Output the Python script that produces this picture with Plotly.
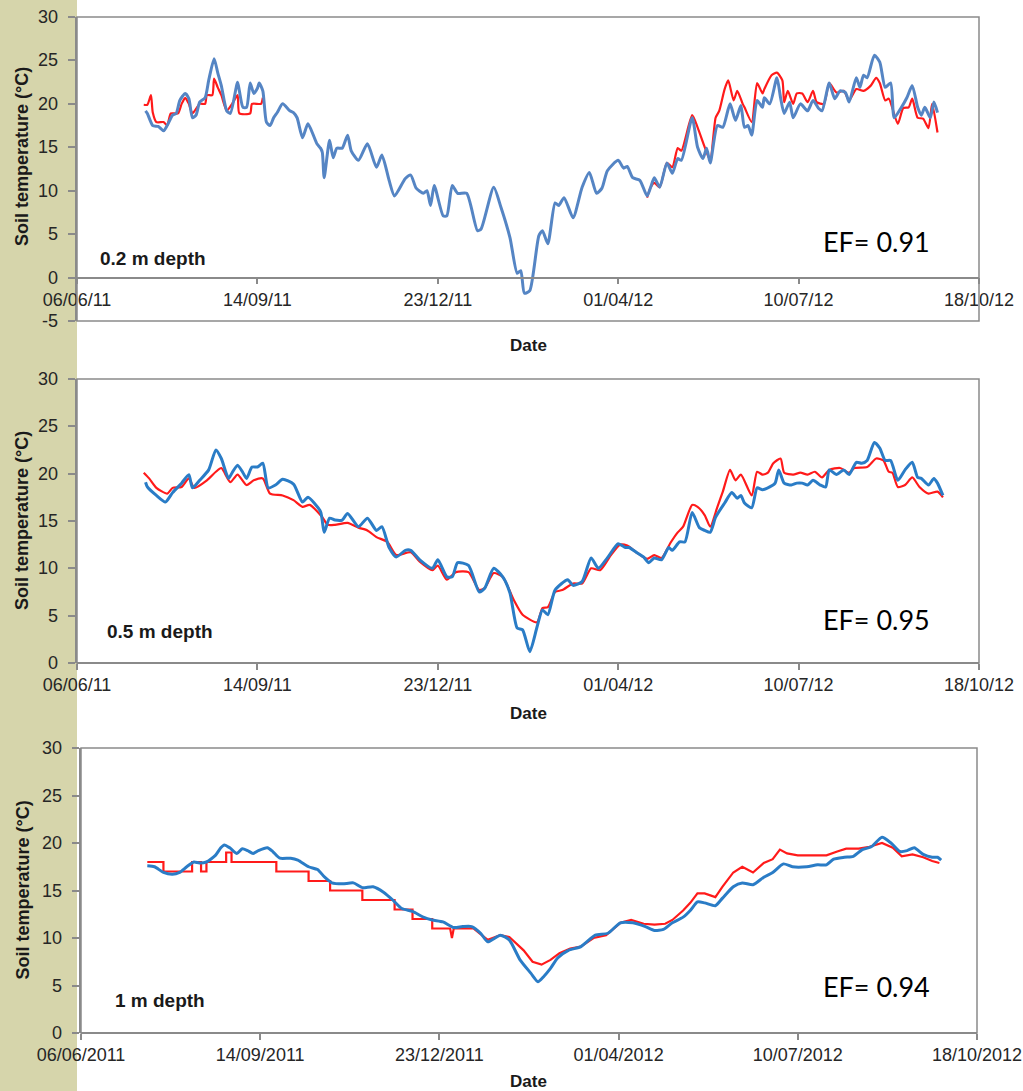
import pandas as pd
import plotly.graph_objects as go

# ---------------------------------------------------------------------------
# Soil temperature, measured (red) vs simulated (blue), at three depths.
# x values are days since 06/06/2011.
# ---------------------------------------------------------------------------
START = pd.Timestamp("2011-06-06")

tick_days = [0, 100, 200, 300, 400, 500]
tick_text_short = ["06/06/11", "14/09/11", "23/12/11", "01/04/12", "10/07/12", "18/10/12"]
tick_text_long = ["06/06/2011", "14/09/2011", "23/12/2011", "01/04/2012", "10/07/2012", "18/10/2012"]

temp_ticks_top = [-5, 0, 5, 10, 15, 20, 25, 30]
temp_ticks = [0, 5, 10, 15, 20, 25, 30]

depth_labels = ["0.2 m depth", "0.5 m depth", "1 m depth"]
ef_values = [0.91, 0.95, 0.94]

# ---- 0.2 m -----------------------------------------------------------------
p1_sim_days = [38, 39, 42, 45, 48, 50, 53, 55, 57, 60, 62, 64, 66, 68, 71, 73, 76, 78, 80, 83,
               85, 89, 90, 92, 94, 96, 98, 100, 101, 103, 105, 107, 109, 111, 114, 118, 120, 122, 125, 128,
               131, 133, 135, 136, 137, 140, 142, 144, 147, 150, 152, 156, 161, 166, 169, 173, 176, 182, 185, 188,
               192, 194, 196, 198, 203, 205, 208, 211, 216, 222, 224, 231, 235, 240, 244, 246, 248, 251, 256, 258,
               261, 265, 267, 270, 275, 280, 284, 288, 291, 294, 300, 303, 305, 308, 312, 316, 318, 320, 323, 327,
               330, 333, 335, 341, 344, 347, 349, 351, 355, 358, 362, 365, 368, 370, 372, 374, 377, 380, 381, 384,
               388, 390, 392, 395, 397, 401, 405, 408, 411, 413, 417, 420, 423, 426, 428, 432, 434, 436, 438, 442,
               445, 448, 451, 453, 457, 460, 463, 466, 468, 470, 473, 475, 477]
p1_sim_vals = [19.2, 18.9, 17.5, 17.4, 16.9, 17.5, 18.7, 18.9, 20.4, 21.2, 20.6, 18.4, 18.7, 20.2, 20.7, 22.7, 25.2, 23.6, 22.1, 19.2,
               18.9, 22.5, 21.5, 19.6, 19.6, 22.4, 21.2, 21.8, 22.4, 21.5, 17.9, 17.5, 18.4, 19.0, 20.0, 19.2, 19.0, 18.4, 16.1, 17.7,
               16.4, 15.4, 14.9, 14.4, 11.5, 15.8, 13.8, 14.9, 14.9, 16.4, 14.6, 13.5, 15.4, 12.7, 14.1, 11.2, 9.4, 11.4, 11.8, 10.3,
               9.7, 10.0, 8.3, 10.6, 7.1, 7.1, 10.6, 9.7, 9.7, 5.4, 5.6, 10.4, 8.1, 4.6, 0.5, 0.8, -1.8, -1.5, 4.8, 5.4,
               3.9, 8.6, 8.3, 9.2, 6.9, 10.4, 12.1, 9.7, 10.3, 12.3, 13.5, 12.6, 12.8, 11.5, 11.2, 9.4, 10.4, 11.5, 10.4, 13.2,
               12.0, 13.7, 13.5, 18.4, 15.0, 13.7, 14.9, 13.2, 17.5, 17.3, 20.0, 18.1, 19.8, 17.3, 17.5, 16.4, 20.4, 19.6, 20.7, 20.0,
               23.0, 20.7, 18.9, 20.2, 18.4, 20.0, 19.2, 20.4, 19.5, 19.2, 22.4, 20.6, 21.5, 21.3, 20.2, 23.0, 21.9, 23.3, 23.0, 25.6,
               24.8, 21.9, 22.4, 18.4, 19.6, 20.7, 22.1, 19.6, 18.7, 19.6, 18.4, 20.2, 19.0]

# measured series has a gap over the winter
p1_obs_days = [37, 39, 41, 42, 44, 48, 50, 52, 56, 58, 60, 62, 64, 68, 71, 72, 75, 76, 78, 80,
               83, 86, 89, 90, 96, 97, 102, 103, 200,
               316, 318, 320, 323, 327, 330, 333, 335, 341, 344, 348, 351, 354, 356, 359, 361, 364, 366, 369, 370,
               374, 377, 380, 381, 385, 388, 391, 392, 394, 397, 399, 402, 405, 408, 410, 414, 417, 421, 425, 428,
               432, 436, 440, 443, 445, 448, 450, 455, 458, 461, 463, 466, 469, 472, 474, 477]
p1_obs_vals = [19.9, 19.9, 21.0, 19.0, 17.9, 17.9, 17.5, 18.9, 18.9, 20.0, 20.7, 20.0, 18.9, 20.0, 20.0, 21.0, 21.0, 22.9, 21.9, 21.0,
               19.2, 20.0, 21.0, 18.9, 18.9, 20.0, 20.0, 20.7, None,
               9.2, 10.4, 10.9, 10.4, 13.2, 12.7, 14.9, 14.6, 18.7, 17.3, 15.0, 13.5, 18.4, 19.2, 21.7, 22.7, 20.4, 21.5, 20.0, 19.6,
               17.9, 22.4, 21.2, 21.7, 23.3, 23.6, 22.7, 20.2, 21.5, 20.0, 21.2, 21.2, 20.2, 21.5, 20.2, 20.0, 22.4, 21.3, 21.5, 20.4,
               21.7, 21.5, 22.1, 23.0, 22.4, 20.4, 20.6, 17.7, 19.5, 19.6, 20.6, 18.4, 18.3, 17.2, 20.0, 16.7]

# ---- 0.5 m -----------------------------------------------------------------
p2_sim_days = [38, 39, 44, 49, 53, 58, 62, 64, 68, 73, 77, 80, 84, 86, 89, 92, 94, 97, 100, 103,
               106, 110, 114, 120, 125, 128, 135, 137, 140, 143, 147, 150, 156, 161, 166, 169, 173, 177, 182, 185,
               190, 197, 200, 205, 208, 211, 217, 223, 226, 231, 236, 240, 244, 247, 251, 255, 258, 261, 265, 272,
               275, 280, 285, 289, 294, 300, 304, 306, 310, 314, 317, 320, 324, 328, 330, 334, 337, 341, 345, 348,
               351, 354, 359, 363, 366, 368, 370, 374, 377, 380, 384, 387, 389, 392, 396, 399, 402, 405, 408, 412,
               415, 417, 421, 425, 428, 432, 435, 438, 442, 445, 448, 451, 455, 459, 463, 466, 468, 472, 475, 477,
               480]
p2_sim_vals = [19.1, 18.6, 17.7, 17.0, 18.0, 19.0, 19.9, 18.5, 19.3, 20.4, 22.5, 21.6, 19.5, 20.1, 20.9, 20.1, 19.5, 20.7, 20.7, 21.1,
               18.5, 18.8, 19.4, 18.9, 17.0, 17.5, 16.0, 13.8, 15.3, 15.1, 15.1, 15.8, 14.4, 15.3, 14.0, 14.4, 12.2, 11.2, 11.9, 11.9,
               10.9, 10.0, 10.9, 9.1, 9.1, 10.6, 10.3, 7.5, 7.9, 10.0, 9.1, 7.4, 3.7, 3.5, 1.2, 3.8, 5.6, 5.1, 7.7, 8.8,
               8.2, 8.6, 11.1, 10.0, 11.1, 12.6, 12.2, 12.2, 11.7, 11.2, 10.6, 11.1, 10.9, 12.2, 11.9, 12.8, 12.8, 15.9, 14.3, 14.0,
               13.8, 15.4, 16.9, 18.0, 17.4, 17.7, 16.9, 16.4, 18.5, 18.3, 18.6, 19.0, 20.4, 19.0, 18.8, 19.0, 19.0, 18.8, 19.3, 18.8,
               18.6, 20.4, 19.9, 20.4, 19.9, 21.2, 21.1, 21.4, 23.3, 22.7, 21.4, 21.4, 19.3, 20.4, 21.2, 19.6, 19.5, 18.8, 19.5, 19.0,
               17.7]

p2_obs_days = [37, 40, 44, 50, 53, 58, 62, 65, 72, 77, 80, 85, 89, 94, 98, 103, 107, 114, 120, 125,
               129, 136, 139, 143, 150, 156, 161, 166, 172, 177, 185, 190, 197, 200, 205, 210, 217, 223, 226, 231,
               236, 242, 247, 255, 258, 261, 265, 269, 275, 280, 285, 290, 296, 301, 305, 310, 316, 320, 324, 329,
               333, 336, 341, 344, 348, 351, 355, 358, 362, 365, 368, 374, 377, 380, 383, 386, 390, 392, 397, 401,
               405, 409, 413, 417, 423, 428, 431, 438, 443, 447, 450, 452, 455, 459, 463, 467, 472, 477, 480]
p2_obs_vals = [20.1, 19.5, 18.5, 17.9, 18.5, 18.6, 19.5, 18.5, 19.3, 20.2, 20.6, 19.1, 19.9, 18.8, 19.3, 19.5, 17.9, 17.7, 17.2, 16.5,
               16.7, 15.4, 14.6, 14.6, 14.8, 14.3, 14.0, 13.3, 12.8, 11.4, 11.7, 10.7, 9.8, 10.3, 8.8, 9.6, 9.6, 7.7, 7.9, 9.5,
               9.1, 6.7, 5.1, 4.3, 5.8, 5.9, 7.5, 7.7, 8.4, 8.4, 10.0, 9.8, 11.4, 12.5, 12.4, 11.7, 11.0, 11.4, 11.1, 12.7,
               13.8, 14.4, 16.7, 16.5, 15.6, 14.4, 16.5, 18.1, 20.4, 19.3, 19.9, 17.7, 20.2, 19.9, 20.1, 21.1, 21.6, 20.1, 19.9, 20.1,
               19.9, 20.2, 19.6, 20.4, 20.6, 20.1, 20.6, 20.7, 21.6, 21.4, 20.2, 20.1, 18.6, 18.8, 19.6, 18.6, 17.9, 18.1, 17.5]

# ---- 1 m -------------------------------------------------------------------
p3_sim_days = [37, 41, 46, 51, 55, 59, 63, 66, 70, 75, 78, 80, 83, 87, 90, 93, 96, 99, 104, 107,
               111, 117, 121, 127, 132, 136, 140, 146, 152, 157, 163, 169, 174, 179, 185, 191, 196, 202, 208, 213,
               218, 223, 227, 234, 239, 245, 251, 255, 258, 262, 266, 272, 279, 287, 294, 301, 308, 315, 320, 325,
               330, 336, 340, 344, 348, 354, 358, 364, 369, 375, 381, 386, 392, 397, 405, 411, 416, 420, 426, 431,
               436, 441, 447, 452, 457, 461, 465, 470, 475, 478, 480]
p3_sim_vals = [17.6, 17.5, 16.9, 16.7, 16.9, 17.5, 18.0, 17.9, 18.0, 18.7, 19.5, 19.8, 19.5, 18.9, 19.4, 19.2, 18.9, 19.2, 19.5, 19.1,
               18.4, 18.4, 18.2, 17.5, 17.2, 16.4, 15.8, 15.7, 15.8, 15.3, 15.4, 14.8, 14.0, 13.1, 12.8, 12.2, 11.9, 11.7, 11.1, 11.2,
               11.2, 10.5, 9.6, 10.3, 9.8, 7.7, 6.3, 5.4, 5.9, 6.8, 7.9, 8.7, 9.1, 10.3, 10.5, 11.6, 11.6, 11.2, 10.8, 10.9,
               11.6, 12.2, 12.9, 13.8, 13.7, 13.4, 14.2, 15.4, 15.8, 15.6, 16.4, 16.9, 17.8, 17.5, 17.5, 17.7, 17.7, 18.3, 18.5, 18.6,
               19.3, 19.6, 20.6, 20.0, 19.1, 19.2, 19.5, 18.8, 18.5, 18.5, 18.2]

# measured at 1 m: whole-degree readings in the first months
p3_obs_days = [37, 46, 46, 62, 62, 67, 67, 70, 70, 81, 81, 84, 84, 109, 109, 127, 127, 139, 139, 157,
               157, 175, 175, 185, 185, 196, 196, 206, 207, 208, 212, 219, 227, 234, 239, 247, 252, 257, 262, 267,
               273, 279, 286, 293, 301, 307, 314, 320, 326, 330, 336, 340, 344, 348, 354, 358, 364, 369, 375, 381,
               386, 390, 394, 400, 408, 416, 422, 427, 434, 440, 447, 453, 458, 464, 470, 475, 479]
p3_obs_vals = [18, 18, 17, 17, 18, 18, 17, 17, 18, 18, 19, 19, 18, 18, 17, 17, 16, 16, 15, 15,
               14, 14, 13, 13, 12, 12, 11, 11, 10, 11, 11.05, 11.0, 9.8, 10.3, 10.1, 8.7, 7.5, 7.2, 7.7, 8.4,
               8.9, 9.1, 10.0, 10.3, 11.6, 11.9, 11.5, 11.4, 11.5, 11.9, 12.9, 13.7, 14.7, 14.7, 14.3, 15.4, 16.9, 17.5, 16.9, 17.9,
               18.3, 19.3, 18.9, 18.7, 18.7, 18.7, 19.1, 19.4, 19.4, 19.6, 20.0, 19.5, 18.6, 18.8, 18.5, 18.1, 17.9]

for a, b in [(p1_sim_days, p1_sim_vals), (p1_obs_days, p1_obs_vals), (p2_sim_days, p2_sim_vals),
             (p2_obs_days, p2_obs_vals), (p3_sim_days, p3_sim_vals), (p3_obs_days, p3_obs_vals)]:
    assert len(a) == len(b), (len(a), len(b))


def to_dates(days):
    return START + pd.to_timedelta(days, unit="D")


W, H = 1023, 1091
FONT = "Liberation Sans, Arial, sans-serif"
AXIS_GREY = "#8a8a8a"
LABEL_COL = "#262626"
RED = "#ff1a1a"

# plot-area boxes in pixels: (left, right, top, bottom)
boxes = [(77, 979, 17, 321), (77, 979, 379, 663), (81, 977, 748, 1033)]
y_ranges = [[-5, 30], [0, 30], [0, 30]]
y_ticks = [temp_ticks_top, temp_ticks, temp_ticks]
sim_colors = ["#5585c4", "#2a7cc6", "#2a7cc6"]
# the stepped 1 m record is drawn with straight segments, the rest smoothed
obs_shapes = ["spline", "spline", "linear"]
series = [
    (p1_sim_days, p1_sim_vals, p1_obs_days, p1_obs_vals, tick_text_short),
    (p2_sim_days, p2_sim_vals, p2_obs_days, p2_obs_vals, tick_text_short),
    (p3_sim_days, p3_sim_vals, p3_obs_days, p3_obs_vals, tick_text_long),
]

fig = go.Figure()
layout = dict(
    template="none",
    width=W, height=H,
    margin=dict(l=0, r=0, t=0, b=0, pad=0),
    paper_bgcolor="white", plot_bgcolor="white",
    showlegend=False,
    font=dict(family=FONT, size=17, color=LABEL_COL),
    shapes=[], annotations=[],
)

# side strip of the page
layout["shapes"].append(dict(type="rect", xref="paper", yref="paper", x0=0, x1=77 / W, y0=0, y1=1,
                             fillcolor="#d6d5ab", line=dict(width=0), layer="below"))

for i, ((l, r, t, b), yr, yt, col, (sd, sv, od, ov, ttext)) in enumerate(
        zip(boxes, y_ranges, y_ticks, sim_colors, series)):
    n = "" if i == 0 else str(i + 1)
    xd = [l / W, r / W]
    yd = [1 - b / H, 1 - t / H]
    zero_pos = yd[0] + (0 - yr[0]) / (yr[1] - yr[0]) * (yd[1] - yd[0])

    layout["xaxis" + n] = dict(
        domain=xd, type="date", range=[START, START + pd.Timedelta(days=500)],
        tickvals=list(to_dates(tick_days)), ticktext=ttext,
        anchor="free", position=zero_pos, automargin=False,
        showline=True, linecolor=AXIS_GREY, linewidth=1.5,
        ticks="outside", ticklen=6, tickcolor=AXIS_GREY, tickwidth=1.5,
        showgrid=False, zeroline=False,
        tickfont=dict(family=FONT, size=18, color=LABEL_COL),
    )
    layout["yaxis" + n] = dict(
        domain=yd, range=yr, tickvals=yt, showticklabels=False,
        anchor="x" + n, automargin=False,
        showline=True, linecolor=AXIS_GREY, linewidth=1.5,
        ticks="outside", ticklen=7, tickcolor=AXIS_GREY, tickwidth=1.5,
        showgrid=False, zeroline=False,
    )
    # temperature labels set a little away from the tick marks
    for v in yt:
        layout["annotations"].append(dict(
            text=str(v), xref="paper", yref="y" + n, x=(l - 17) / W, y=v,
            xanchor="right", yanchor="middle", showarrow=False,
            font=dict(family=FONT, size=18, color=LABEL_COL)))

    # plot frame
    layout["shapes"].append(dict(type="rect", xref=f"x{n} domain", yref=f"y{n} domain",
                                 x0=0, x1=1, y0=0, y1=1, line=dict(color=AXIS_GREY, width=1.5)))

    fig.add_trace(go.Scatter(x=to_dates(od), y=ov, mode="lines", xaxis="x" + n, yaxis="y" + n,
                             line=dict(color=RED, width=2.2, shape=obs_shapes[i], smoothing=0.6),
                             connectgaps=False, name="Measured"))
    fig.add_trace(go.Scatter(x=to_dates(sd), y=sv, mode="lines", xaxis="x" + n, yaxis="y" + n,
                             line=dict(color=col, width=3, shape="spline", smoothing=0.6), name="Simulated"))

    # axis titles
    layout["annotations"].append(dict(
        text="<b>Soil temperature (°C)</b>", textangle=-90, xref="paper", yref="paper",
        x=22 / W, y=1 - ((t + b) / 2 - (12 if i == 0 else 0)) / H, showarrow=False,
        font=dict(family=FONT, size=18, color="#1a1a1a"), xanchor="center", yanchor="middle"))
    date_y = [345, 713, 1081][i]
    layout["annotations"].append(dict(
        text="<b>Date</b>", xref="paper", yref="paper", x=528 / W, y=1 - date_y / H,
        showarrow=False, font=dict(family=FONT, size=17, color="#1a1a1a"),
        xanchor="center", yanchor="middle"))
    # depth label
    dl_x, dl_y = [(98, 258), (105, 631), (113, 1000)][i]
    layout["annotations"].append(dict(
        text=f"<b>{depth_labels[i]}</b>", xref="paper", yref="paper", x=dl_x / W, y=1 - dl_y / H,
        showarrow=False, font=dict(family=FONT, size=19, color="#1a1a1a"),
        xanchor="left", yanchor="middle"))
    # model efficiency
    ef_y = [241, 619, 986][i]
    layout["annotations"].append(dict(
        text=f"EF= {ef_values[i]:.2f}", xref="paper", yref="paper", x=821 / W, y=1 - ef_y / H,
        showarrow=False, font=dict(family="Lato, sans-serif", size=27, color="black"),
        xanchor="left", yanchor="middle"))

fig.update_layout(**layout)
fig.write_html("out.html")
